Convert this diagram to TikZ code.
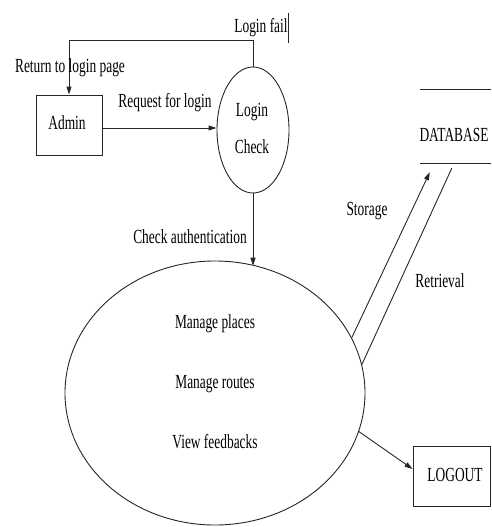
\documentclass[tikz,border=0pt]{standalone}
\usepackage{fontspec}
\setmainfont{Liberation Serif}[FakeStretch=0.67]
\usetikzlibrary{arrows.meta,shapes.geometric}
\begin{document}
\begin{tikzpicture}[x=1pt,y=-1pt,
  every node/.style={font=\fontsize{20}{35}\selectfont, inner sep=0pt},
  ln/.style={line width=0.9pt, draw=black!85},
  arr/.style={ln, -{Triangle[length=8pt,width=5pt]}},
  box/.style={draw=black!85, line width=0.9pt, rectangle},
  bubble/.style={draw=black!85, line width=0.9pt, ellipse}]
\useasboundingbox (0,0) rectangle (491,527);
% nodes
\node[box, minimum width=66, minimum height=60] (admin) at (69,125) {};
\node at (67,123) {Admin};
\node[bubble, minimum width=72, minimum height=126] (lc) at (253,130) {};
\node (lct1) at (252,112) {Login};
\node (lct2) at (252,147) {Check};
\node[bubble, minimum width=300, minimum height=264] (big) at (215,393) {};
\node (t1) at (215,324) {Manage places};
\node (t2) at (215,384) {Manage routes};
\node (t3) at (215,442) {View feedbacks};
\node[minimum width=71, minimum height=73] (db) at (455.5,126.5) {};
\node (dbt) at (454,135) {DATABASE};
\draw[ln] (db.north west) -- (db.north east);
\draw[ln] (db.south west) -- (db.south east);
\node[box, minimum width=77, minimum height=60] (logout) at (451.5,476) {};
\node at (455,475) {LOGOUT};
% connectors
\path (admin.east) ++(0,3) coordinate (a1);
\draw[arr] (a1) -- (a1 -| lc.west);
\draw[arr] (lc.north) -- ++(0,-26) -| (admin.north);
\draw[ln] (288,13) -- (288,43);
\draw[arr] (lc.south) -- (lc.south |- big.72);
\draw[arr] (big.22) -- ([shift={(10,9)}]db.south west);
\draw[ln] ([shift={(32,5)}]db.south west) -- (big.11);
\draw[arr] (big.-15) -- ([yshift=7]logout.west);
% labels
\node at (261,28) {Login fail};
\node at (70,68) {Return to login page};
\node at (165,103) {Request for login};
\node at (190,237) {Check authentication};
\node at (367,211) {Storage};
\node at (440,281) {Retrieval};
\end{tikzpicture}
\end{document}
